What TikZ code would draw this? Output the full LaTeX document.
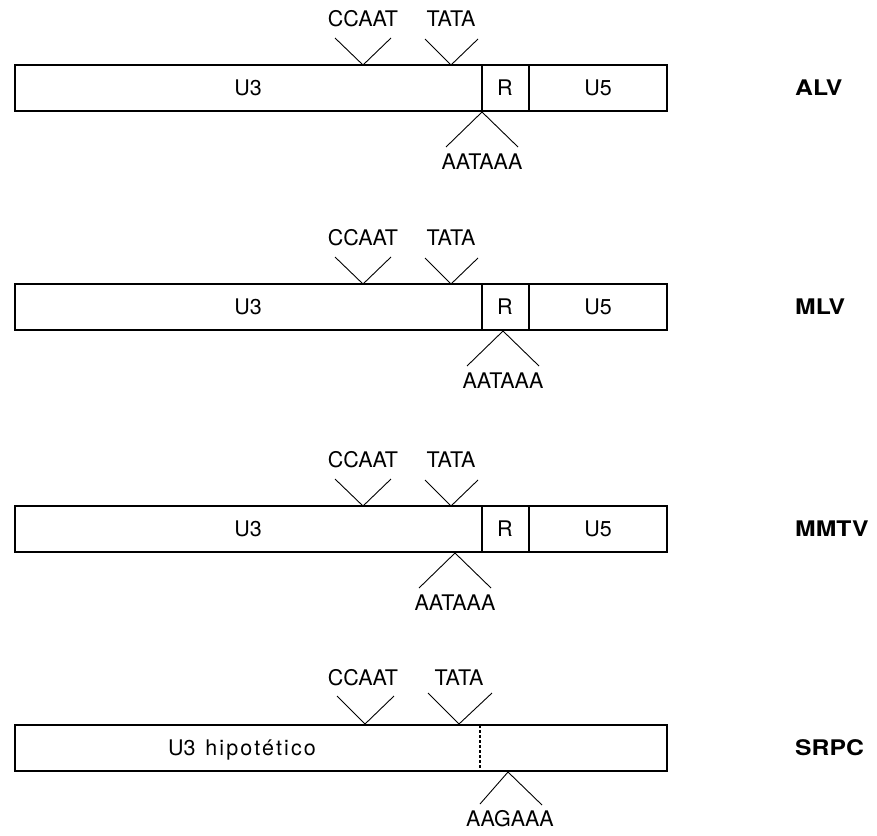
\documentclass[tikz,border=0pt]{standalone}
\usepackage{fontspec}
\usepackage{graphicx}
\setmainfont{TeX Gyre Heros}
\tikzset{
  lbl/.style={font=\fontsize{21.5}{25}\selectfont, inner sep=0pt, text height=15.4pt, text depth=0pt},
  virus/.style={lbl, font=\fontsize{21.5}{25}\selectfont\bfseries, anchor=west},
  caja/.style={line width=1.6pt},
  corte/.style={line width=2.4pt},
  sitio/.style={line width=0.9pt},
}
\newcommand{\ancho}[1]{\scalebox{1.15}[1]{#1}}

\begin{document}
\begin{tikzpicture}[x=1pt,y=-1pt]
  \useasboundingbox (0,0) rectangle (877,835);

  % LTR de ALV, MLV y MMTV
  \foreach \t/\v/\a/\n in {65/ALV/482/1,284/MLV/503/2,506/MMTV/455/3}{
    \draw[caja] (15,\t) rectangle (667,\t+46);
    \draw[corte] (482,\t) -- (482,\t+46);
    \draw[corte] (529,\t) -- (529,\t+46);
    \node[lbl] (u3-\n) at (248,\t+23) {U3};
    \node[lbl] (r-\n)  at (505,\t+23) {R};
    \node[lbl] (u5-\n) at (598,\t+23) {U5};
    \node[virus] (virus-\n) at (795,\t+23) {\ancho{\v}};

    \node[lbl] (ccaat-\n) at (363,\t-46) {CCAAT};
    \node[lbl] (tata-\n)  at (451,\t-46) {TATA};
    \coordinate (ccaat-\n-l) at (335,\t-27);
    \coordinate (ccaat-\n-v) at (363,\t);
    \coordinate (ccaat-\n-r) at (391,\t-27);
    \coordinate (tata-\n-l) at (425,\t-26);
    \coordinate (tata-\n-v) at (451,\t);
    \coordinate (tata-\n-r) at (478,\t-26);
    \draw[sitio] (ccaat-\n-l) -- (ccaat-\n-v) -- (ccaat-\n-r);
    \draw[sitio] (tata-\n-l) -- (tata-\n-v) -- (tata-\n-r);

    \node[lbl] (polia-\n) at (\a,\t+97) {AATAAA};
    \coordinate (polia-\n-l) at (\a-36,\t+82);
    \coordinate (polia-\n-v) at (\a,\t+47);
    \coordinate (polia-\n-r) at (\a+36,\t+82);
    \draw[sitio] (polia-\n-l) -- (polia-\n-v) -- (polia-\n-r);
  }

  % SRPC
  \draw[caja] (15,725) rectangle (667,771);
  \draw[corte, dash pattern=on 3pt off 2pt] (480,725) -- (480,771);
  \node[lbl, anchor=west] (u3-4) at (168,748) {U3\hspace{0.45em}\addfontfeature{LetterSpace=10}hipotético};
  \node[virus] (virus-4) at (795,748) {\ancho{SRPC}};

  \node[lbl] (ccaat-4) at (363,678) {CCAAT};
  \node[lbl] (tata-4)  at (459,678) {TATA};
  \coordinate (ccaat-4-l) at (337,696);
  \coordinate (ccaat-4-v) at (365,724);
  \coordinate (ccaat-4-r) at (394,696);
  \coordinate (tata-4-l) at (428,693);
  \coordinate (tata-4-v) at (459,724);
  \coordinate (tata-4-r) at (492,693);
  \draw[sitio] (ccaat-4-l) -- (ccaat-4-v) -- (ccaat-4-r);
  \draw[sitio] (tata-4-l) -- (tata-4-v) -- (tata-4-r);

  \node[lbl] (polia-4) at (510,819) {AAGAAA};
  \coordinate (polia-4-l) at (480,804);
  \coordinate (polia-4-v) at (508,772);
  \coordinate (polia-4-r) at (542,805);
  \draw[sitio] (polia-4-l) -- (polia-4-v) -- (polia-4-r);
\end{tikzpicture}
\end{document}
